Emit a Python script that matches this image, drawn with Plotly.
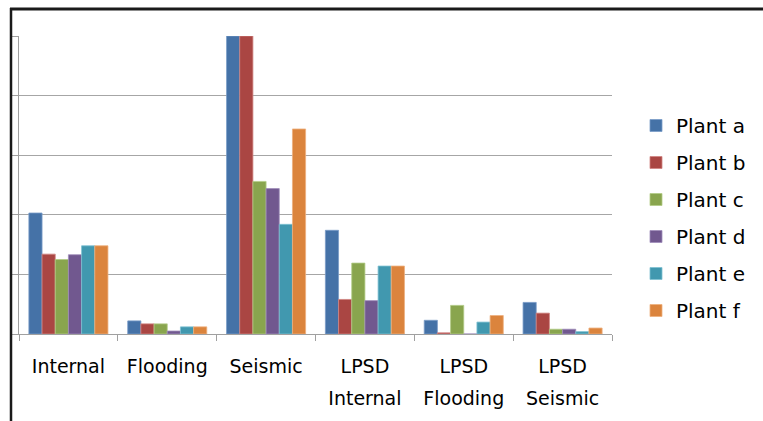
import plotly.graph_objects as go

# Hazard categories along the x axis
categories = ["Internal", "Flooding", "Seismic",
              "LPSD Internal", "LPSD Flooding", "LPSD Seismic"]
# Tick text: first and second row of each category label
label_row1 = ["Internal", "Flooding", "Seismic", "LPSD", "LPSD", "LPSD"]
label_row2 = ["", "", "", "Internal", "Flooding", "Seismic"]

# Values per plant (axis capped at 5)
plant_a = [2.03, 0.22, 5.00, 1.74, 0.23, 0.53]
plant_b = [1.34, 0.17, 5.00, 0.58, 0.02, 0.35]
plant_c = [1.25, 0.17, 2.56, 1.19, 0.48, 0.08]
plant_d = [1.33, 0.05, 2.44, 0.56, 0.00, 0.08]
plant_e = [1.48, 0.12, 1.84, 1.14, 0.20, 0.04]
plant_f = [1.48, 0.12, 3.44, 1.14, 0.31, 0.10]

series = [
    ("Plant a", plant_a, "#4572A7", "#7A9CC8"),
    ("Plant b", plant_b, "#AA4643", "#D08482"),
    ("Plant c", plant_c, "#89A54E", "#B3CC86"),
    ("Plant d", plant_d, "#71588F", "#A08DBA"),
    ("Plant e", plant_e, "#4198AF", "#7DC0D2"),
    ("Plant f", plant_f, "#DB843D", "#EDB07E"),
]

FONT = "DejaVu Sans"

fig = go.Figure()
for name, vals, color, edge in series:
    fig.add_trace(go.Bar(
        name=name, x=categories, y=vals,
        marker=dict(color=color, line=dict(color=edge, width=0.8)),
        legendgroup=name,
    ))

# Empty trace that carries the second row of category labels
fig.add_trace(go.Scatter(
    x=categories, y=[None] * len(categories), xaxis="x2", yaxis="y",
    mode="markers", showlegend=False, hoverinfo="skip",
))

# Plot-area geometry in pixels
L, R, T, B = 19, 612, 36, 334
W, H = 763, 421


def px_x(px):
    return (px - L) / (R - L)


def px_y(py):
    return (B - py) / (B - T)


tick_font = dict(family=FONT, size=19, color="black")

fig.update_layout(
    width=W, height=H,
    margin=dict(l=L, r=W - R, t=T, b=H - B),
    paper_bgcolor="white", plot_bgcolor="white",
    barmode="group", bargap=0.2, bargroupgap=0.0,
    font=dict(family=FONT, color="black"),
    showlegend=True,
    legend=dict(
        x=px_x(636), y=px_y(106), xanchor="left", yanchor="top",
        font=dict(family=FONT, size=20, color="black"),
        tracegroupgap=8, bgcolor="rgba(0,0,0,0)",
    ),
    xaxis=dict(
        type="category", categoryorder="array", categoryarray=categories,
        tickvals=categories, ticktext=label_row1,
        showline=True, linecolor="#A0A0A0", linewidth=1,
        ticks="outside", tickson="boundaries", ticklen=6,
        tickcolor="#A0A0A0", showgrid=False,
        tickfont=tick_font, ticklabelstandoff=15,
        range=[-0.5, 5.5], fixedrange=True,
    ),
    xaxis2=dict(
        type="category", categoryorder="array", categoryarray=categories,
        overlaying="x", side="bottom", anchor="y",
        tickvals=categories, ticktext=label_row2,
        showline=False, ticks="", showgrid=False, zeroline=False,
        tickfont=tick_font, ticklabelstandoff=51,
        range=[-0.5, 5.5], fixedrange=True,
    ),
    yaxis=dict(
        range=[0, 5], dtick=1, showticklabels=False,
        showline=True, linecolor="#A0A0A0", linewidth=1,
        ticks="outside", ticklen=8, tickcolor="#A0A0A0",
        showgrid=True, gridcolor="#A6A6A6", gridwidth=1,
        zeroline=False,
    ),
    shapes=[
        # outer frame: top and left edges
        dict(type="line", xref="paper", yref="paper",
             x0=px_x(10), x1=px_x(W + 2), y0=px_y(9), y1=px_y(9),
             line=dict(color="#1a1a1a", width=3)),
        dict(type="line", xref="paper", yref="paper",
             x0=px_x(11), x1=px_x(11), y0=px_y(8), y1=px_y(H + 2),
             line=dict(color="#1a1a1a", width=2.5)),
    ],
)

fig.write_html("out.html")
